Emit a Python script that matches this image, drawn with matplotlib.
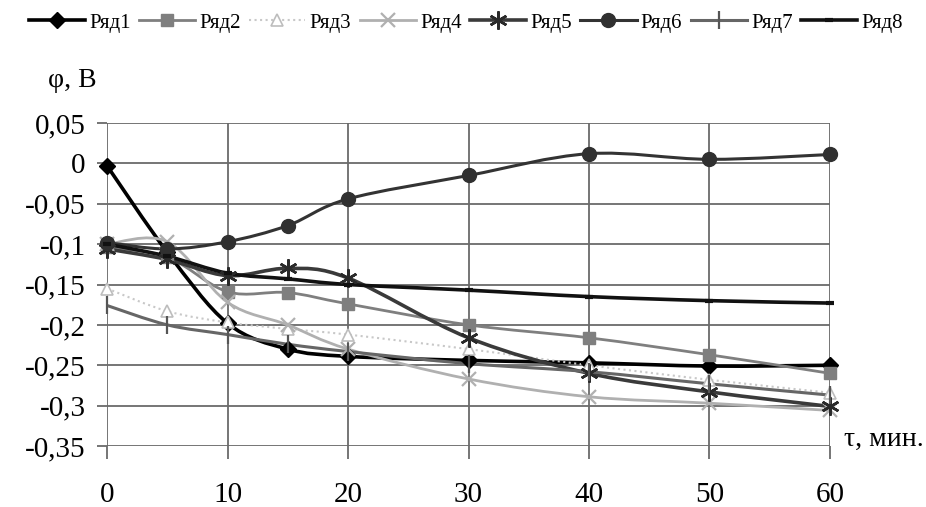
import numpy as np
import matplotlib
matplotlib.use('agg')
import matplotlib.pyplot as plt
from matplotlib.path import Path
from matplotlib.patches import PathPatch
from matplotlib.lines import Line2D
from matplotlib.ticker import FuncFormatter

plt.rcParams['font.family'] = ['Liberation Serif', 'DejaVu Serif']

# time, min
t = [0, 5, 10, 15, 20, 30, 40, 50, 60]

names = ['Ряд1', 'Ряд2', 'Ряд3', 'Ряд4', 'Ряд5', 'Ряд6', 'Ряд7', 'Ряд8']

r1 = [-0.003, -0.110, -0.198, -0.230, -0.239, -0.244, -0.247, -0.251, -0.250]
r2 = [-0.104, -0.116, -0.159, -0.160, -0.174, -0.200, -0.216, -0.237, -0.260]
r3 = [-0.155, -0.183, -0.197, -0.205, -0.212, -0.230, -0.250, -0.268, -0.284]
r4 = [-0.100, -0.097, -0.172, -0.200, -0.230, -0.267, -0.289, -0.297, -0.306]
r5 = [-0.106, -0.119, -0.139, -0.130, -0.142, -0.216, -0.260, -0.283, -0.301]
r6 = [-0.098, -0.106, -0.097, -0.077, -0.044, -0.015, 0.012, 0.005, 0.011]
r7 = [-0.176, -0.200, -0.212, -0.224, -0.233, -0.248, -0.258, -0.273, -0.287]
r8 = [-0.100, -0.115, -0.136, -0.143, -0.150, -0.157, -0.165, -0.170, -0.173]

series = [r1, r2, r3, r4, r5, r6, r7, r8]

# (line color, line width, line style, marker, marker size, marker face, marker edge, marker edge width)
styles = [
    ('#000000', 2.6, '-', 'D', 8, '#000000', '#000000', 1.0),
    ('#7f7f7f', 2.0, '-', 's', 9, '#7f7f7f', '#7f7f7f', 1.0),
    ('#c8c8c8', 1.5, ':', '^', 9, 'white', '#bdbdbd', 1.2),
    ('#b0b0b0', 2.0, '-', 'x', 10, 'none', '#b0b0b0', 1.6),
    ('#3a3a3a', 2.6, '-', (6, 2, 0), 13, 'none', '#2a2a2a', 1.8),
    ('#333333', 2.2, '-', 'o', 10, '#303030', '#303030', 1.0),
    ('#666666', 2.2, '-', '|', 13, 'none', '#555555', 1.6),
    ('#111111', 2.6, '-', '_', 6, 'none', '#111111', 3.0),
]


def smooth_path(x, y):
    # Excel-like smoothed line built from cubic bezier segments
    pts = np.column_stack([x, y]).astype(float)
    n = len(pts)
    verts = [pts[0]]
    codes = [Path.MOVETO]
    for i in range(n - 1):
        p0 = pts[i - 1] if i > 0 else pts[i]
        p1 = pts[i]
        p2 = pts[i + 1]
        p3 = pts[i + 2] if i + 2 < n else pts[i + 1]
        c1 = p1 + (p2 - p0) / 6.0
        c2 = p2 - (p3 - p1) / 6.0
        verts += [c1, c2, p2]
        codes += [Path.CURVE4] * 3
    return Path(verts, codes)


def plot_chart():
    fig = plt.figure(figsize=(9.26, 5.07), dpi=100)
    ax = fig.add_axes([0.1156, 0.1203, 0.7807, 0.6371])

    ax.set_xlim(0, 60)
    ax.set_ylim(-0.35, 0.05)
    ax.set_xticks(np.arange(0, 61, 10))
    ax.set_yticks(np.arange(-0.35, 0.051, 0.05))
    ax.yaxis.set_major_formatter(FuncFormatter(
        lambda v, p: ('%g' % round(v, 2)).replace('.', ',') if abs(v) > 1e-9 else '0'))

    for s in ax.spines.values():
        s.set_visible(False)
    ax.grid(True, color='#6a6a6a', linewidth=1.3)
    ax.set_axisbelow(True)
    ax.tick_params(axis='x', length=9, width=1.3, color='#6a6a6a', pad=17, labelsize=21)
    ax.tick_params(axis='y', length=7.5, width=1.3, color='#6a6a6a', pad=8, labelsize=21)

    handles = []
    for y, nm, st in zip(series, names, styles):
        lc, lw, ls, mk, ms, mf, me, mew = st
        patch = PathPatch(smooth_path(t, y), facecolor='none', edgecolor=lc,
                          linewidth=lw, linestyle=ls, zorder=3)
        ax.add_patch(patch)
        ax.plot(t, y, linestyle='none', marker=mk, markersize=ms,
                markerfacecolor=mf, markeredgecolor=me, markeredgewidth=mew,
                zorder=4, clip_on=False)
        handles.append(Line2D([], [], color=lc, linewidth=lw, linestyle=ls,
                              marker=mk, markersize=ms, markerfacecolor=mf,
                              markeredgecolor=me, markeredgewidth=mew))

    fig.legend(handles, names, loc='center', bbox_to_anchor=(0.503, 0.955),
               ncol=8, frameon=False, fontsize=15, handlelength=2.7,
               handletextpad=0.2, columnspacing=0.4, borderaxespad=0)

    fig.text(0.052, 0.842, 'φ, В', fontsize=20, ha='left', va='center')
    fig.text(0.911, 0.133, 'τ, мин.', fontsize=20, ha='left', va='center')

    plt.savefig('out.png', dpi=100)


if __name__ == "__main__":
    plot_chart()
